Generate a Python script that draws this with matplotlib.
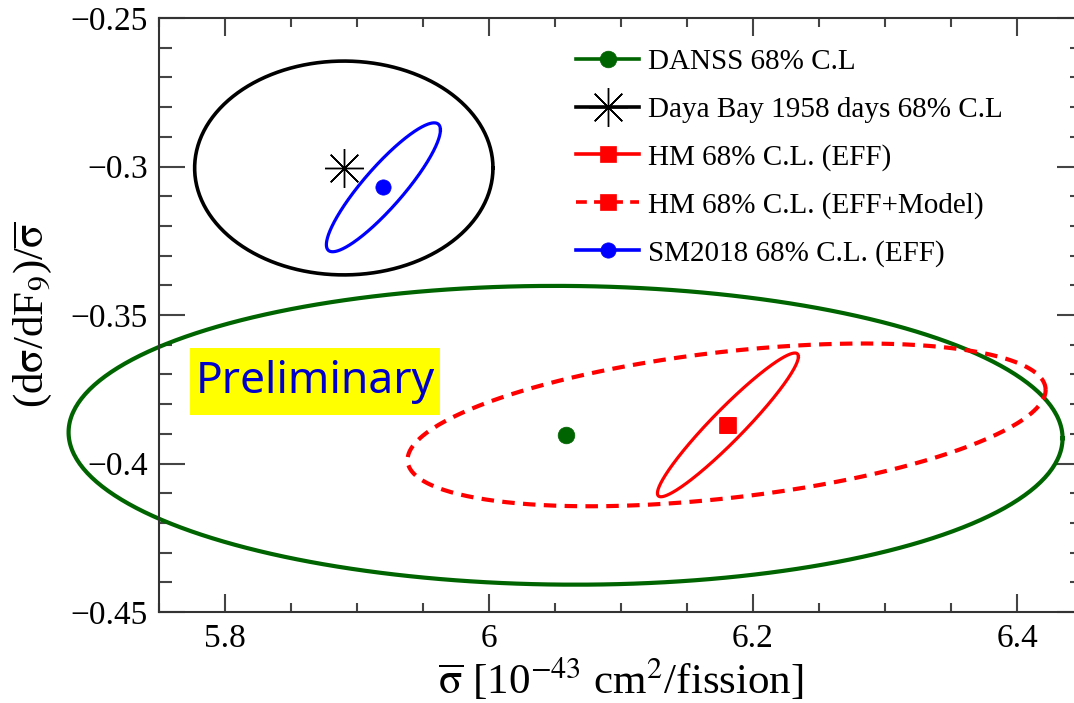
import numpy as np
import matplotlib
matplotlib.use("Agg")
import matplotlib.pyplot as plt
from matplotlib.patches import Rectangle

plt.rcParams.update({"font.family": "Liberation Serif",
                     "mathtext.fontset": "stix",
                     "axes.unicode_minus": True})

# best-fit points  (sigma_f [1e-43 cm2/fission], dsigma/dF9 / sigma)
labels = ["DANSS 68% C.L", "Daya Bay 1958 days 68% C.L", "HM 68% C.L. (EFF)",
          "HM 68% C.L. (EFF+Model)", "SM2018 68% C.L. (EFF)"]
center_x = [6.058, 5.890, 6.181, 6.180, 5.920]
center_y = [-0.3905, -0.3005, -0.387, -0.387, -0.307]
# 68% contours: half-widths in x and y and correlation
sig_x = [0.3765, 0.113, 0.0534, 0.2417, 0.0432]
sig_y = [0.0503, 0.036, 0.0242, 0.0274, 0.0217]
rho = [-0.02, 0.0, 0.95, 0.43, 0.89]

colors = ["#006400", "black", "red", "red", "blue"]
linestyles = ["-", "-", "-", (0, (3, 2)), "-"]
linewidths = [3.0, 2.6, 2.3, 3.0, 2.3]
markers = ["o", (8, 2, 0), "s", "s", "o"]
msizes = [12, 28, 11, 11, 11]

fig = plt.figure(figsize=(10.74, 7.03), dpi=100)
ax = fig.add_axes([159/1074, 91/703, 924/1074, 594/703])

t = np.linspace(0, 2*np.pi, 400)
for i in range(len(labels)):
    ex = center_x[i] + sig_x[i]*np.cos(t)
    ey = center_y[i] + sig_y[i]*(rho[i]*np.cos(t) + np.sqrt(1 - rho[i]**2)*np.sin(t))
    ax.plot(ex, ey, color=colors[i], ls=linestyles[i], lw=linewidths[i],
            zorder=2, clip_on=False)

for i in range(len(labels)):
    ax.plot([center_x[i]], [center_y[i]], color=colors[i], ls=linestyles[i],
            lw=2.6, marker=markers[i], markersize=msizes[i],
            markeredgewidth=1.0 if i == 1 else 0.5, label=labels[i], zorder=3)

# "Preliminary" stamp
ax.add_patch(Rectangle((0.0335, 0.3316), 0.2706, 0.1128, transform=ax.transAxes,
                       facecolor="yellow", edgecolor="none", zorder=4))
ax.text(0.0335 + 0.2706/2, 0.3316 + 0.1128/2, "Preliminary", transform=ax.transAxes,
        family="Noto Sans", fontsize=32, color="#0000cc", va="center", ha="center",
        zorder=5)

ax.set_xlim(5.75, 6.45)
ax.set_ylim(-0.45, -0.25)
ax.set_xticks([5.8, 6.0, 6.2, 6.4])
ax.set_xticklabels(["5.8", "6", "6.2", "6.4"])
ax.set_yticks([-0.45, -0.4, -0.35, -0.3, -0.25])
ax.set_yticklabels(["\u22120.45", "\u22120.4", "\u22120.35", "\u22120.3", "\u22120.25"])
ax.set_xticks(np.arange(5.75, 6.451, 0.05), minor=True)
ax.set_yticks(np.arange(-0.45, -0.249, 0.01), minor=True)

for s in ax.spines.values():
    s.set_color("#333333")
    s.set_linewidth(1.5)
ax.tick_params(which="both", direction="in", top=True, right=True,
               color="#444444", width=1.5, labelsize=24, pad=8)
ax.tick_params(axis="y", which="major", length=19)
ax.tick_params(axis="y", which="minor", length=9.5)
ax.tick_params(axis="x", which="major", length=13)
ax.tick_params(axis="x", which="minor", length=6.5)

ax.set_xlabel(r"$\overline{\mathrm{\sigma}}$ [10$^{\mathrm{-43}}$ cm$^2$/fission]",
              fontsize=31, labelpad=2)
ax.set_ylabel(r"(d$\mathrm{\sigma}$/dF$_9$)/$\overline{\mathrm{\sigma}}$",
              fontsize=31, labelpad=12)

ax.legend(loc="upper left", bbox_to_anchor=(0.4513, 0.948), frameon=False,
          fontsize=21, handlelength=2.16, handletextpad=0.3, labelspacing=0.72,
          borderpad=0, borderaxespad=0, numpoints=1)

fig.savefig("out.png", dpi=100)
